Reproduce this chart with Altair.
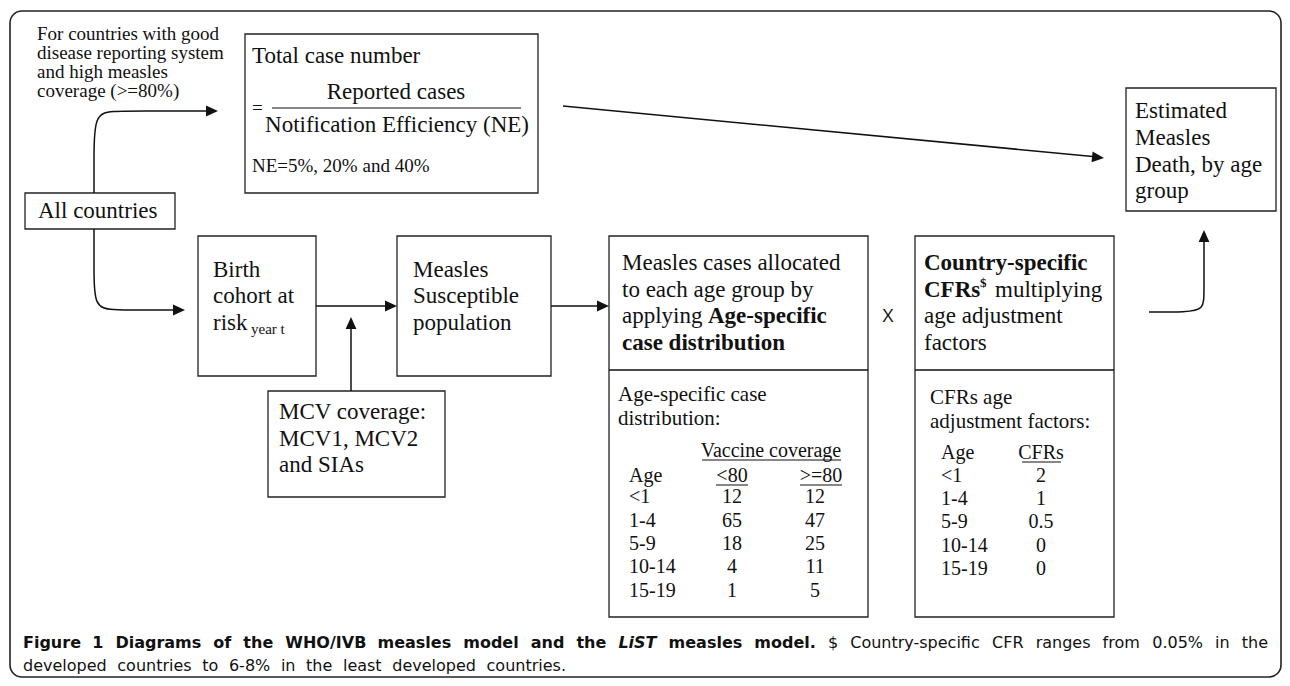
import altair as alt
import pandas as pd

# ---------------- layout frame ----------------
W, H = 1274, 670           # plot area; page margin 8px
XD = [8, 8 + W]
YD = [8, 8 + H]

SERIF = "Liberation Serif"
SANS = "DejaVu Sans"

# ---------------- boxes ----------------
box_id = ["total", "all", "estimated", "birth", "suscept", "cases", "cfr", "mcv"]
box_x1 = [245, 25, 1126, 198, 397, 609, 915, 268]
box_x2 = [538, 175, 1276, 316, 551, 868, 1114, 445]
box_y1 = [34, 193, 88, 236, 236, 236, 236, 391]
box_y2 = [193, 229, 211, 376, 376, 617, 617, 497]

# horizontal rules: dividers, fraction bar, underlines
rule_x1 = [609, 915, 272, 702, 716, 800, 1022]
rule_x2 = [868, 1114, 521, 841, 748, 842, 1061]
rule_y = [370, 370, 108, 460, 485, 485, 462]
rule_w = [1.3, 1.3, 1.0, 1.0, 1.0, 1.0, 1.0]

# connectors (polylines, basis-smoothed)
conn_id = ["up"] * 6 + ["down"] * 6 + ["b2s"] * 2 + ["s2c"] * 2 + ["mcv"] * 2 + ["diag"] * 2 + ["right"] * 5
conn_x = [94, 94, 94, 112, 140, 212,
          94, 94, 94, 112, 140, 179,
          316, 391, 551, 603, 351, 351, 563, 1098,
          1149, 1186, 1204, 1204, 1204]
conn_y = [193, 160, 114, 111, 111, 111,
          229, 270, 307, 310, 310, 310,
          306, 306, 306, 306, 391, 323, 106, 157,
          312, 312, 310, 292, 236]

# arrowheads (tip positions and direction)
head_x = [218, 185, 397, 609, 351, 1104, 1204]
head_y = [111, 310, 306, 306, 317, 158, 230]
head_angle = [0, 0, 0, 0, 270, 5.5, 270]

# ---------------- texts ----------------
note_lines = ["For countries with good", "disease reporting system", "and high measles", "coverage (>=80%)"]
est_lines = ["Estimated", "Measles", "Death, by age", "group"]
birth_lines = ["Birth", "cohort at", "risk"]
susc_lines = ["Measles", "Susceptible", "population"]
mcv_lines = ["MCV coverage:", "MCV1, MCV2", "and SIAs"]
age_groups = ["<1", "1-4", "5-9", "10-14", "15-19"]

reg_text = (note_lines + ["Total case number", "=", "NE=5%, 20% and 40%", "All countries"] + est_lines
            + birth_lines + susc_lines + mcv_lines
            + ["Measles cases allocated", "to each age group by", "applying",
               "multiplying", "age adjustment", "factors",
               "Age-specific case", "distribution:", "CFRs age", "adjustment factors:"]
            + ["Age"] + age_groups + ["Age"] + age_groups + ["year t"])
reg_x = ([37] * 4 + [252, 252, 252, 38] + [1135] * 4
         + [213] * 3 + [413] * 3 + [279] * 3
         + [622, 622, 622, 995, 924, 924, 618, 618, 930, 930]
         + [629] * 6 + [941] * 6 + [251])
reg_y = ([40, 59, 78, 97] + [63, 114, 172, 218] + [118, 145, 172, 198]
         + [277, 303, 330] + [277, 303, 330] + [419, 446, 472]
         + [270, 297, 323, 297, 323, 350, 401, 425, 404, 428]
         + [482, 503, 527, 550, 573, 597] + [459, 482, 505, 528, 552, 575] + [334])
reg_s = ([19] * 4 + [23, 19, 19, 23] + [23] * 4
         + [23] * 3 + [23] * 3 + [23] * 3
         + [23] * 6 + [21] * 4
         + [20] * 12 + [15])

bold_text = ["Age-specific", "case distribution", "Country-specific", "CFRs", "$"]
bold_x = [708, 622, 924, 924, 980]
bold_y = [323, 350, 270, 297, 287]
bold_s = [23, 23, 23, 23, 13]

col1_vals = ["12", "65", "18", "4", "1"]
col2_vals = ["12", "47", "25", "11", "5"]
cfr_vals = ["2", "1", "0.5", "0", "0"]
row_y_cases = [503, 527, 550, 573, 597]
row_y_cfr = [482, 505, 528, 552, 575]

cen_text = ["Reported cases", "Notification Efficiency (NE)", "Vaccine coverage", "<80", ">=80", "CFRs"] \
    + col1_vals + col2_vals + cfr_vals
cen_x = [396, 397, 771, 732, 821, 1041] + [732] * 5 + [815] * 5 + [1041] * 5
cen_y = [99, 132, 457, 482, 482, 459] + row_y_cases + row_y_cases + row_y_cfr
cen_s = [23, 23, 20, 20, 20, 20] + [20] * 15

# caption (placed word by word; first line justified)
cap1_words = ["Figure", "1", "Diagrams", "of", "the", "WHO/IVB", "measles", "model", "and", "the",
              "LiST", "measles", "model.",
              "$", "Country-specific", "CFR", "ranges", "from", "0.05%", "in", "the"]
cap1_style = ["b"] * 10 + ["bi"] + ["b"] * 2 + ["r"] * 8
cap2_words = ["developed", "countries", "to", "6-8%", "in", "the", "least", "developed", "countries."]
cap2_style = ["r"] * len(cap2_words)
CAP_SIZE = 16
CAP_LEFT, CAP_RIGHT, CAP2_RIGHT = 23, 1268, 566
CAP_Y1, CAP_Y2 = 648, 671

# approximate DejaVu Sans advance widths (em)
_reg_w = {"$": .636, "%": .95, ".": .318, "-": .361, "C": .698, "F": .575, "R": .695,
          "a": .613, "c": .55, "d": .635, "e": .615, "f": .352, "g": .635, "h": .634, "i": .278,
          "l": .278, "m": .974, "n": .634, "o": .612, "p": .635, "r": .411, "s": .521, "t": .392,
          "u": .634, "v": .592, "y": .592, "0": .636, "5": .636, "6": .636, "8": .636}
_bold_w = {"F": .63, "i": .343, "g": .716, "u": .712, "r": .493, "e": .678, "1": .696, "D": .828,
           "a": .675, "m": 1.042, "s": .595, "o": .687, "f": .435, "t": .478, "h": .712, "W": 1.042,
           "H": .837, "O": .85, "/": .366, "I": .372, "V": .774, "B": .765, "l": .343, "d": .716,
           "n": .712, ".": .381, "L": .637, "S": .72, "T": .682}


def word_w(w, style):
    tab = _reg_w if style == "r" else _bold_w
    return sum(tab.get(c, 0.62) for c in w) * CAP_SIZE


def justify(words, styles, left, right):
    widths = [word_w(w, s) for w, s in zip(words, styles)]
    gap = (right - left - sum(widths)) / (len(words) - 1)
    xs, cur = [], left
    for wd in widths:
        xs.append(cur)
        cur += wd + gap
    return xs


cap1_x = justify(cap1_words, cap1_style, CAP_LEFT, CAP_RIGHT)
cap2_x = justify(cap2_words, cap2_style, CAP_LEFT, CAP2_RIGHT)


# ---------------- chart ----------------
def X(f="x"):
    return alt.X(f"{f}:Q", scale=alt.Scale(domain=XD, nice=False, zero=False), axis=None)


def Y(f="y"):
    return alt.Y(f"{f}:Q", scale=alt.Scale(domain=YD, nice=False, zero=False, reverse=True), axis=None)


frame = alt.Chart(pd.DataFrame({"x": [10], "x2": [1281], "y": [11], "y2": [677]})).mark_rect(
    fill="white", stroke="#222", strokeWidth=1.6, cornerRadius=12
).encode(x=X(), x2="x2:Q", y=Y(), y2="y2:Q")

boxes = alt.Chart(pd.DataFrame({"id": box_id, "x": box_x1, "x2": box_x2, "y": box_y1, "y2": box_y2})).mark_rect(
    fill="white", stroke="#222", strokeWidth=1.3
).encode(x=X(), x2="x2:Q", y=Y(), y2="y2:Q")

rules = alt.Chart(pd.DataFrame({"x": rule_x1, "x2": rule_x2, "y": rule_y, "w": rule_w})).mark_rule(
    color="#111"
).encode(x=X(), x2="x2:Q", y=Y(), strokeWidth=alt.StrokeWidth("w:Q", scale=None))

conn_df = pd.DataFrame({"id": conn_id, "x": conn_x, "y": conn_y})
conn_df["o"] = range(len(conn_df))
connectors = alt.Chart(conn_df).mark_line(
    color="#111", strokeWidth=1.5, interpolate="basis"
).encode(x=X(), y=Y(), detail="id:N", order="o:Q")

heads = alt.Chart(pd.DataFrame({"x": head_x, "y": head_y, "a": head_angle})).mark_point(
    shape="M0,0 L-2,-0.9 L-2,0.9 Z", filled=True, color="#111", opacity=1, size=144, strokeWidth=0
).encode(x=X(), y=Y(), angle=alt.Angle("a:Q", scale=None))


def text_layer(texts, xs, ys, sizes, font, weight="normal", style="normal", align="left"):
    df = pd.DataFrame({"t": texts, "x": xs, "y": ys, "s": sizes})
    return alt.Chart(df).mark_text(
        font=font, fontWeight=weight, fontStyle=style, align=align, baseline="alphabetic", color="#111"
    ).encode(x=X(), y=Y(), text="t:N", size=alt.Size("s:Q", scale=None))


def cap_subset(style):
    idx = [i for i, s in enumerate(cap1_style) if s == style]
    return [cap1_words[i] for i in idx], [cap1_x[i] for i in idx]


cb_t, cb_x = cap_subset("b")
ci_t, ci_x = cap_subset("bi")
cr_t, cr_x = cap_subset("r")

t_reg = text_layer(reg_text, reg_x, reg_y, reg_s, SERIF)
t_bold = text_layer(bold_text, bold_x, bold_y, bold_s, SERIF, weight="bold")
t_cen = text_layer(cen_text, cen_x, cen_y, cen_s, SERIF, align="center")
t_x = text_layer(["X"], [888], [322], [19], "Open Sans", align="center")
t_cap_b = text_layer(cb_t, cb_x, [CAP_Y1] * len(cb_t), [CAP_SIZE] * len(cb_t), SANS, weight="bold")
t_cap_i = text_layer(ci_t, ci_x, [CAP_Y1] * len(ci_t), [CAP_SIZE] * len(ci_t), SANS, weight="bold", style="italic")
t_cap_r = text_layer(cr_t + cap2_words, cr_x + cap2_x,
                     [CAP_Y1] * len(cr_t) + [CAP_Y2] * len(cap2_words),
                     [CAP_SIZE] * (len(cr_t) + len(cap2_words)), SANS)

chart = alt.layer(
    frame, boxes, rules, connectors, heads,
    t_reg, t_bold, t_cen, t_x, t_cap_b, t_cap_i, t_cap_r
).properties(
    width=W, height=H, padding=0, autosize=alt.AutoSizeParams(type="none")
).configure_view(stroke=None)

chart.save("out.html", embed_options={"renderer": "svg", "actions": False})
